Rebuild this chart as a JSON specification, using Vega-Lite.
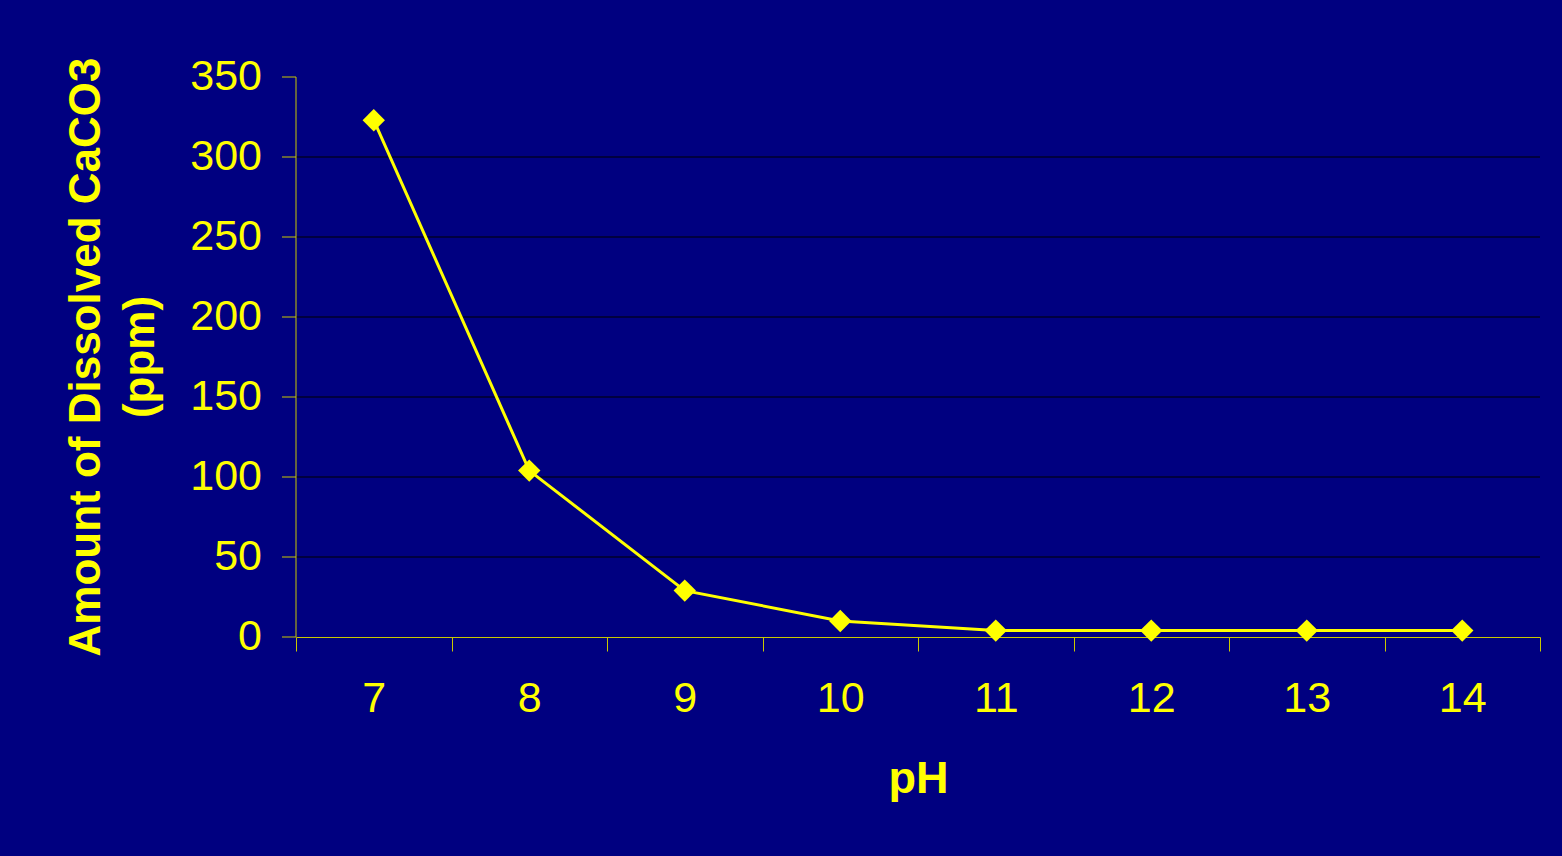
{
  "$schema": "https://vega.github.io/schema/vega-lite/v6.json",
  "width": 1244,
  "height": 560,
  "autosize": {"type": "none"},
  "padding": {"left": 296, "top": 77, "right": 22, "bottom": 219},
  "background": "#000080",
  "config": {
    "view": {"stroke": null},
    "font": "Liberation Sans"
  },
  "data": {
    "values": [
      {"pH": 7, "ppm": 323},
      {"pH": 8, "ppm": 104},
      {"pH": 9, "ppm": 29},
      {"pH": 10, "ppm": 10},
      {"pH": 11, "ppm": 4},
      {"pH": 12, "ppm": 4},
      {"pH": 13, "ppm": 4},
      {"pH": 14, "ppm": 4}
    ]
  },
  "encoding": {
    "x": {
      "field": "pH",
      "type": "quantitative",
      "scale": {"domain": [6.5, 14.5], "nice": false, "zero": false},
      "axis": {
        "title": "pH",
        "values": [6.5, 7.5, 8.5, 9.5, 10.5, 11.5, 12.5, 13.5, 14.5],
        "labelExpr": "datum.value < 14 ? format(datum.value + 0.5, 'd') : ''",
        "labelOffset": 77.75,
        "labelBound": false,
        "labelFlush": false,
        "labelOverlap": false,
        "labelFont": "Liberation Sans",
        "labelFontSize": 43,
        "labelColor": "#FFFF00",
        "labelPadding": 26,
        "tickSize": 14,
        "tickColor": "#C8C800",
        "domainColor": "#C8C800",
        "grid": false,
        "titleFont": "Liberation Sans",
        "titleFontSize": 45,
        "titleFontWeight": "bold",
        "titleColor": "#FFFF00",
        "titlePadding": 36
      }
    },
    "y": {
      "field": "ppm",
      "type": "quantitative",
      "scale": {"domain": [0, 350], "nice": false},
      "axis": {
        "title": ["Amount of Dissolved CaCO3", "(ppm)"],
        "values": [0, 50, 100, 150, 200, 250, 300, 350],
        "translate": 0,
        "labelFont": "Liberation Sans",
        "labelFontSize": 43,
        "labelColor": "#FFFF00",
        "labelPadding": 20,
        "tickSize": 14,
        "tickColor": "#C8C800",
        "domainColor": "#C8C800",
        "grid": true,
        "gridColor": "#000000",
        "gridWidth": 1,
        "gridOpacity": {"condition": {"test": "datum.value == 350 || datum.value == 0", "value": 0}, "value": 1},
        "titleFont": "Liberation Sans",
        "titleFontSize": 44,
        "titleFontWeight": "bold",
        "titleColor": "#FFFF00",
        "titleLineHeight": 54,
        "titlePadding": 27
      }
    }
  },
  "layer": [
    {
      "mark": {"type": "line", "color": "#FFFF00", "strokeWidth": 3}
    },
    {
      "mark": {"type": "point", "shape": "diamond", "filled": true, "color": "#FFFF00", "opacity": 1, "size": 500}
    }
  ]
}
